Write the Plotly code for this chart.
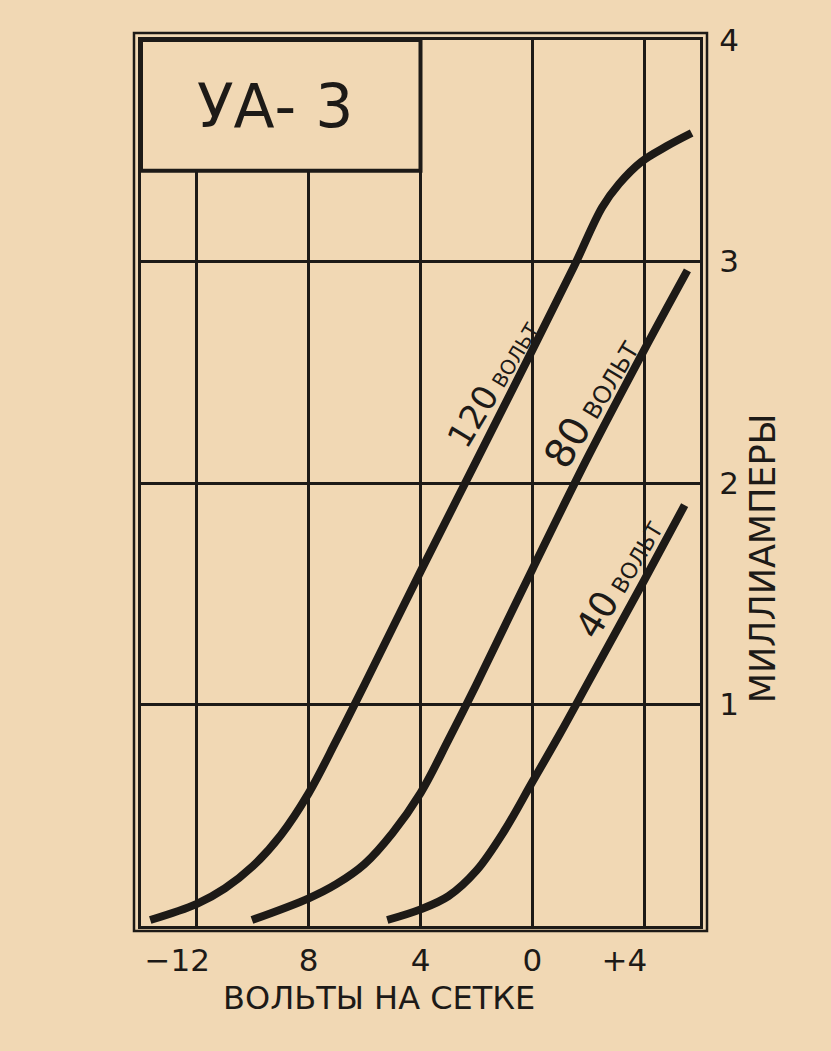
import plotly.graph_objects as go

# ---- data (grid volts vs. anode current, mA) ----
v_120 = [-13.67, -12.0, -11.0, -10.0, -9.0, -8.0, -7.0, -6.0, -4.0, -2.0, 0.0, 1.5, 2.5, 3.1, 3.9, 4.8, 5.7]
i_120 = [0.027, 0.10, 0.17, 0.27, 0.41, 0.60, 0.84, 1.09, 1.60, 2.10, 2.60, 2.98, 3.245, 3.35, 3.45, 3.52, 3.58]

v_80 = [-10.03, -8.0, -7.0, -6.0, -5.0, -4.0, -3.0, -2.0, 0.0, 2.0, 4.0, 5.55]
i_80 = [0.027, 0.125, 0.19, 0.28, 0.42, 0.60, 0.84, 1.09, 1.61, 2.12, 2.60, 2.96]

v_40 = [-5.19, -4.0, -3.0, -2.0, -1.0, 0.0, 1.0, 2.0, 4.0, 5.45]
i_40 = [0.027, 0.075, 0.135, 0.25, 0.43, 0.65, 0.87, 1.10, 1.56, 1.90]

x_tickvals = [-12, -8, -4, 0, 4]
x_ticktext = ["−12\u00a0\u00a0\u00a0\u00a0", "8", "4", "0", "+4\u00a0\u00a0\u00a0\u00a0"]
y_tickvals = [1, 2, 3, 4]
y_ticktext = ["1", "2", "3", "4"]

title_text = "УА- 3"
x_title = "ВОЛЬТЫ НА СЕТКЕ"
y_title = "МИЛЛИАМПЕРЫ"

# (number, unit, V, mA, font size)
labels = [("120", " ВОЛЬТ", -1.4, 2.45, 34),
          ("80", " ВОЛЬТ", 2.1, 2.36, 40),
          ("40", " ВОЛЬТ", 3.1, 1.57, 37)]

BG = "#F1D8B4"
INK = "#1d1a17"
FONT = "DejaVu Sans"

fig = go.Figure()
for vx, iy in [(v_120, i_120), (v_80, i_80), (v_40, i_40)]:
    fig.add_trace(go.Scatter(x=vx, y=iy, mode="lines",
                             line=dict(color=INK, width=8, shape="spline", smoothing=1.0),
                             hoverinfo="skip", showlegend=False))

fig.update_layout(
    width=831, height=1051,
    margin=dict(l=141, r=131, t=40, b=125),
    paper_bgcolor=BG, plot_bgcolor=BG,
    showlegend=False,
    font=dict(family=FONT, color=INK),
)

fig.update_xaxes(range=[-14, 6], tickvals=x_tickvals, ticktext=x_ticktext,
                 showgrid=True, gridcolor=INK, gridwidth=2.5,
                 showline=True, linecolor=INK, linewidth=3, mirror=True,
                 ticks="", ticklabelstandoff=5, zeroline=False,
                 tickfont=dict(size=31, color=INK, family=FONT))
fig.update_yaxes(range=[0, 4], tickvals=y_tickvals, ticktext=y_ticktext, side="right",
                 showgrid=True, gridcolor=INK, gridwidth=2.5,
                 showline=True, linecolor=INK, linewidth=3, mirror=True,
                 ticks="", ticklabelstandoff=10, zeroline=False,
                 tickfont=dict(size=31, color=INK, family=FONT))

# outer line of the double frame
fig.add_shape(type="rect", xref="paper", yref="paper",
              x0=-7/559, x1=1+7/559, y0=-5/886, y1=1+7/886,
              line=dict(color=INK, width=2.5), fillcolor="rgba(0,0,0,0)", layer="above")

# title box covering the upper-left grid
fig.add_shape(type="rect", xref="x", yref="y", x0=-14, x1=-4, y0=3.41, y1=4,
              line=dict(color=INK, width=4), fillcolor=BG, layer="above")
fig.add_annotation(x=-9.2, y=3.70, xref="x", yref="y", text=title_text, showarrow=False,
                   font=dict(size=60, color=INK, family=FONT))

for big, small, lx, ly, sz in labels:
    fig.add_annotation(x=lx, y=ly, xref="x", yref="y", showarrow=False, textangle=-59,
                       text=f"{big}<span style='font-size:{int(sz*0.6)}px'>{small}</span>",
                       font=dict(size=sz, color=INK, family=FONT))

fig.add_annotation(x=-5.5, y=-72/886, xref="x", yref="paper", text=x_title, showarrow=False,
                   font=dict(size=32, color=INK, family=FONT), yanchor="middle")
fig.add_annotation(x=1+63/559, y=1.66, xref="paper", yref="y", text=y_title, showarrow=False,
                   textangle=-90, font=dict(size=35, color=INK, family=FONT), xanchor="center")

fig.write_html("out.html", config={"displayModeBar": False},
               post_script="document.body.style.margin='0';document.body.style.background='%s';" % BG)
